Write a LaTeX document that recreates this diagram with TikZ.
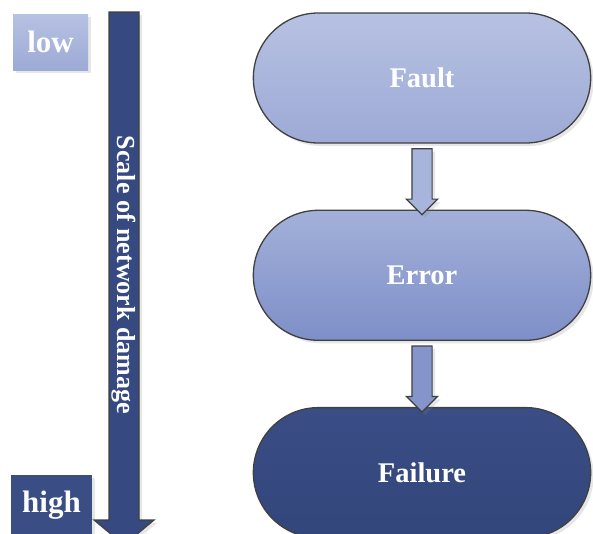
\documentclass[tikz,border=0pt]{standalone}
\usepackage{fontspec}
\setmainfont{Liberation Serif}
\usetikzlibrary{positioning,shapes.misc,shapes.arrows,shadows}

\definecolor{edgeGray}{HTML}{404040}
\definecolor{faultTop}{HTML}{B7C1E2}
\definecolor{faultBot}{HTML}{9DAAD6}
\definecolor{errorTop}{HTML}{A3B0D9}
\definecolor{errorBot}{HTML}{7E8FC8}
\definecolor{failTop}{HTML}{3A4D84}
\definecolor{failBot}{HTML}{33467C}
\definecolor{scaleBlue}{HTML}{364981}
\definecolor{arrowA}{HTML}{A7B4DC}
\definecolor{arrowB}{HTML}{8595CC}

\begin{document}
\begin{tikzpicture}[x=1pt,y=-1pt,
  lbl/.style={font=\fontsize{28.5}{30}\selectfont\bfseries, text=white},
  soft/.style={drop shadow={shadow xshift=3pt,shadow yshift=-3pt,opacity=.2}},
  state/.style={rounded rectangle, draw=edgeGray, line width=1.3pt,
    minimum width=344pt, minimum height=130pt, lbl, soft},
  levelbox/.style={rectangle, minimum height=56pt, lbl, font=\fontsize{31}{32}\selectfont\bfseries, soft},
  flow/.style={single arrow, rotate=-90, draw=edgeGray, line width=1.2pt,
    single arrow head extend=5.5pt, single arrow head indent=0pt,
    inner xsep=0pt, inner ysep=9.5pt, minimum height=66pt, soft}]
\useasboundingbox (0,0) rectangle (593,533);

% damage scale
\draw[fill=scaleBlue, draw=edgeGray, line width=1.2pt, soft]
  (109,12) -- (139,12) -- (139,520) -- (154,520) -- (124,545)
  -- (94,520) -- (109,520) -- cycle;
\node[rotate=-90, font=\fontsize{26}{28}\selectfont\bfseries, text=white]
  (scale) at (124,275) {Scale of network damage};
\node[levelbox, top color=faultTop, bottom color=faultBot, minimum width=75pt] (low) at (50.5,42) {low};
\node[levelbox, fill=failTop, minimum width=81pt, minimum height=60pt] (high) at (51.5,505) {high};

% fault -> error -> failure
\node[state, top color=faultTop, bottom color=faultBot] (fault) at (422,78) {Fault};
\node[state, top color=errorTop, bottom color=errorBot, below=66pt of fault] (error) {Error};
\node[state, top color=failTop, bottom color=failBot, below=66pt of error] (failure) {Failure};

\path (fault) -- (error) node[midway, flow, fill=arrowA] (faultToError) {};
\path (error) -- (failure) node[midway, flow, fill=arrowB] (errorToFailure) {};
\end{tikzpicture}
\end{document}
